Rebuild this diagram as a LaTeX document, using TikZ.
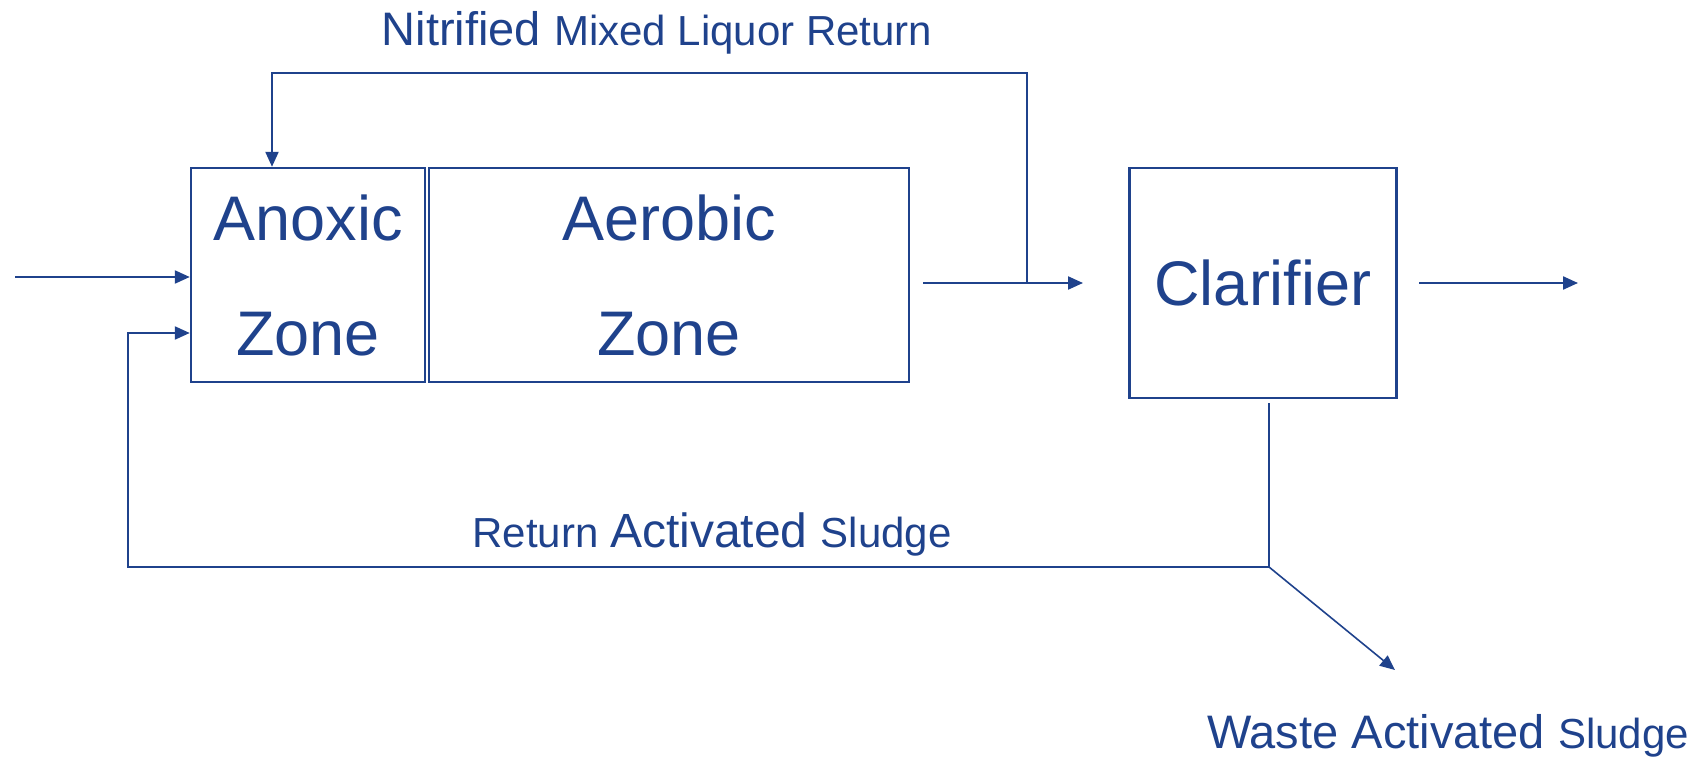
\documentclass[tikz,border=0pt]{standalone}
\usepackage{fontspec}
\setmainfont{Liberation Sans}
\usetikzlibrary{arrows.meta}
\definecolor{flowblue}{RGB}{31,66,140}
\begin{document}
\begin{tikzpicture}[x=1pt, y=-1pt,
  tank/.style={draw=flowblue, line width=2.4pt, inner sep=0pt, align=center, text=flowblue, font=\fontsize{63}{115}\selectfont},
  pipe/.style={draw=flowblue, line width=2.2pt},
  flow/.style={pipe, -{Triangle[length=15pt, width=13pt]}},
  lbl/.style={text=flowblue, anchor=base, inner sep=0pt}]
\useasboundingbox (0,0) rectangle (1704,759);
\node[tank, minimum width=234pt, minimum height=214pt] (anoxic) at (308, 275) {Anoxic\\Zone};
\node[tank, minimum width=480pt, minimum height=214pt] (aerobic) at (669, 275) {Aerobic\\Zone};
\node[tank, minimum width=267pt, minimum height=230pt] (clarifier) at (1263, 283) {Clarifier};
\coordinate (feed) at (15, 277);
\coordinate (rasin) at (128, 333);
\coordinate (aerout) at (923, 283);
\coordinate (clarin) at (1083, 283);
\coordinate (nmlr) at (1027, 283);
\coordinate (nmlrtop) at (1027, 73);
\coordinate (nmlrleft) at (272, 73);
\coordinate (clarout) at (1419, 283);
\coordinate (effluent) at (1578, 283);
\coordinate (underflow) at (1269, 403);
\coordinate (ras) at (1269, 567);
\coordinate (was) at (1395, 670);
\draw[flow] (feed) -- (feed -| anoxic.west);
\draw[flow] (ras) -- (rasin |- ras) -- (rasin) -- (rasin -| anoxic.west);
\draw[pipe] (underflow) -- (ras);
\draw[flow, line width=1.6pt] (ras) -- (was);
\draw[flow] (aerout) -- (clarin);
\draw[flow] (nmlr) -- (nmlrtop) -- (nmlrleft) -- (nmlrleft |- anoxic.north);
\draw[flow] (clarout) -- (effluent);
\node[lbl] (nmlrlabel) at (657, 46) {\fontsize{47}{47}\selectfont Nitrified \fontsize{42}{42}\selectfont Mixed Liquor Return};
\node[lbl] (raslabel) at (712, 547) {\fontsize{42}{42}\selectfont Return \fontsize{48}{48}\selectfont Activated \fontsize{42}{42}\selectfont Sludge};
\node[lbl] (waslabel) at (1448, 748) {\fontsize{47}{47}\selectfont Waste Activated \fontsize{42}{42}\selectfont Sludge};
\end{tikzpicture}
\end{document}
